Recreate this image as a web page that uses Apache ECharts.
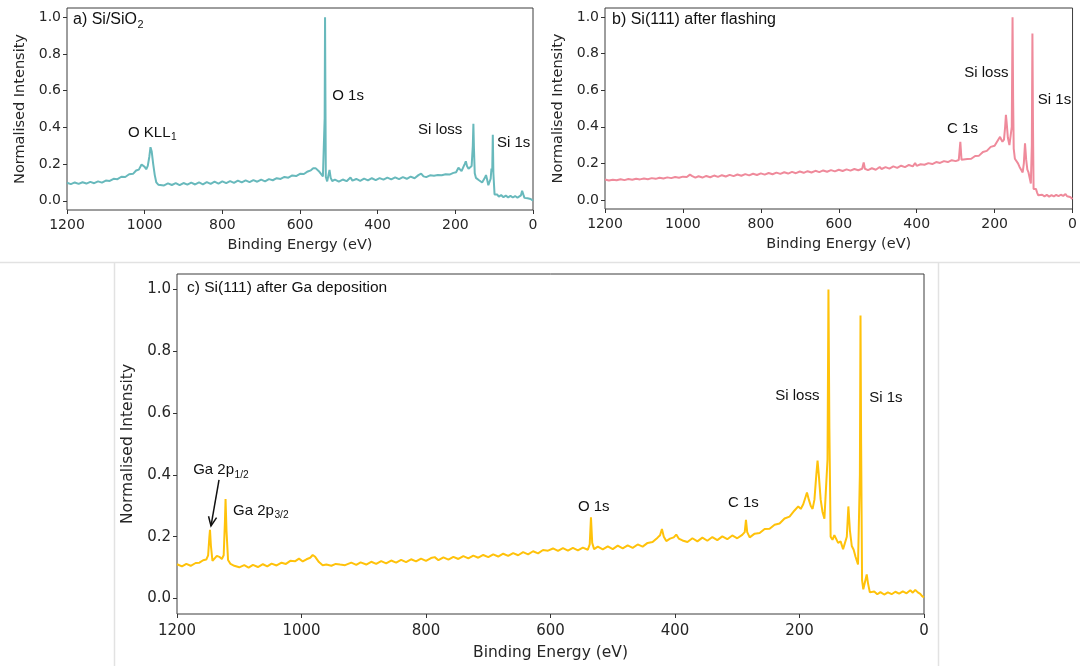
<!DOCTYPE html>
<html>
<head>
<meta charset="utf-8">
<script src="https://cdn.jsdelivr.net/npm/echarts@6/dist/echarts.min.js"></script>
<style>
html,body{margin:0;padding:0;background:#fff;}
#chart{width:1080px;height:666px;}
</style>
</head>
<body>
<div id="chart"></div>
<script>
// ---------- DATA (binding energy eV, normalised intensity) ----------
const specA = [
[1200,0.098],[1190,0.091],[1180,0.100],[1170,0.092],[1160,0.101],[1150,0.094],[1140,0.103],[1130,0.096],
[1120,0.106],[1110,0.099],[1100,0.110],[1090,0.108],[1080,0.120],[1070,0.118],[1060,0.131],[1050,0.130],
[1040,0.145],[1030,0.147],[1022,0.165],[1015,0.170],[1008,0.198],[1004,0.205],[1000,0.185],[996,0.172],
[992,0.190],[988,0.240],[985,0.292],[982,0.270],[978,0.200],[974,0.140],[970,0.100],[965,0.088],
[960,0.094],[950,0.084],[940,0.095],[930,0.086],[920,0.096],[910,0.085],[900,0.097],[890,0.088],
[880,0.099],[870,0.089],[860,0.100],[850,0.090],[840,0.102],[830,0.092],[820,0.104],[810,0.094],
[800,0.106],[790,0.096],[780,0.107],[770,0.098],[760,0.110],[750,0.100],[740,0.111],[730,0.102],
[720,0.113],[710,0.104],[700,0.115],[690,0.106],[680,0.118],[670,0.112],[660,0.123],[650,0.119],
[640,0.130],[630,0.126],[620,0.138],[610,0.135],[600,0.147],[590,0.146],[580,0.160],[572,0.166],
[566,0.177],[560,0.178],[555,0.172],[550,0.158],[545,0.150],[541,0.133],[538,0.125],[536.5,0.45],
[535.5,1.0],[534.5,0.55],[533.5,0.13],[530,0.106],[527,0.114],[524,0.168],[521,0.125],[517,0.108],
[510,0.115],[500,0.105],[490,0.116],[480,0.107],[470,0.127],[465,0.110],[455,0.119],[445,0.109],
[435,0.121],[425,0.111],[415,0.123],[405,0.113],[395,0.124],[385,0.115],[375,0.126],[365,0.117],
[355,0.128],[345,0.118],[335,0.129],[325,0.120],[315,0.132],[305,0.123],[295,0.140],[288,0.148],
[282,0.133],[275,0.129],[265,0.139],[255,0.137],[245,0.140],[235,0.139],[225,0.145],[215,0.143],
[205,0.152],[198,0.156],[192,0.180],[188,0.175],[184,0.162],[180,0.168],[176,0.200],[173,0.215],
[170,0.190],[166,0.175],[162,0.170],[158,0.190],[155,0.30],[153.5,0.42],[152,0.28],[150,0.150],
[147,0.125],[143,0.118],[139,0.112],[135,0.108],[131,0.100],[127,0.108],[124,0.125],[121,0.140],
[118,0.115],[115,0.085],[112,0.082],[109,0.120],[107,0.175],[105,0.16],[103.5,0.36],[102,0.15],
[99,0.035],[96,0.026],[92,0.034],[88,0.023],[82,0.031],[76,0.020],[70,0.028],[64,0.019],
[58,0.027],[52,0.018],[46,0.026],[40,0.017],[35,0.025],[31,0.030],[28,0.055],[25,0.035],
[22,0.016],[18,0.022],[14,0.014],[10,0.020],[6,0.010],[3,0.009],[0,0.000]
];
const specB = [
[1200,0.111],[1190,0.106],[1180,0.110],[1170,0.107],[1160,0.113],[1150,0.108],[1140,0.114],[1130,0.110],
[1120,0.116],[1110,0.112],[1100,0.117],[1090,0.113],[1080,0.119],[1070,0.115],[1060,0.121],[1050,0.117],
[1040,0.123],[1030,0.119],[1020,0.125],[1010,0.121],[1000,0.127],[990,0.125],[982,0.138],[976,0.130],
[968,0.122],[960,0.129],[950,0.122],[940,0.131],[930,0.124],[920,0.133],[910,0.126],[900,0.135],
[890,0.128],[880,0.137],[870,0.130],[860,0.139],[850,0.132],[840,0.141],[830,0.134],[820,0.143],
[810,0.136],[800,0.145],[790,0.138],[780,0.147],[770,0.140],[760,0.149],[750,0.142],[740,0.151],
[730,0.144],[720,0.153],[710,0.146],[700,0.155],[690,0.148],[680,0.157],[670,0.150],[660,0.159],
[650,0.152],[640,0.161],[630,0.154],[620,0.163],[610,0.156],[600,0.165],[590,0.158],[580,0.167],
[570,0.160],[560,0.169],[550,0.162],[540,0.170],[536,0.205],[533,0.170],[525,0.163],[515,0.173],
[505,0.165],[495,0.180],[490,0.169],[480,0.179],[470,0.171],[460,0.183],[450,0.175],[440,0.187],
[430,0.179],[420,0.191],[410,0.183],[404,0.202],[400,0.186],[390,0.195],[380,0.192],[370,0.201],
[360,0.196],[350,0.207],[340,0.202],[330,0.212],[320,0.207],[310,0.217],[300,0.212],[292,0.218],
[288,0.318],[285,0.220],[280,0.210],[270,0.223],[260,0.225],[250,0.240],[240,0.242],[230,0.262],
[220,0.268],[210,0.290],[200,0.296],[195,0.314],[190,0.322],[186,0.345],[183,0.330],[180,0.318],
[176,0.330],[173,0.400],[171,0.465],[169,0.420],[166,0.340],[162,0.300],[159,0.295],[156,0.40],
[154,1.0],[152.5,0.55],[151,0.28],[148,0.225],[144,0.215],[140,0.200],[136,0.180],[132,0.165],
[128,0.150],[125,0.200],[122,0.31],[119,0.220],[116,0.165],[113,0.150],[110,0.120],[107,0.090],
[104.5,0.30],[103,0.91],[101.5,0.40],[100,0.060],[97,0.050],[94,0.060],[91,0.040],[88,0.025],
[84,0.020],[78,0.028],[72,0.019],[66,0.027],[60,0.018],[54,0.026],[48,0.019],[42,0.027],
[36,0.020],[30,0.028],[24,0.022],[18,0.032],[14,0.020],[10,0.028],[6,0.016],[3,0.013],[0,0.005]
];
const specC = [
[1200,0.111],[1192,0.104],[1185,0.112],[1178,0.106],[1170,0.115],[1164,0.116],[1158,0.124],[1153,0.126],
[1150,0.140],[1148,0.20],[1147,0.222],[1145.5,0.17],[1143,0.122],[1140,0.125],[1136,0.138],[1132,0.135],
[1128,0.128],[1125,0.140],[1123,0.25],[1122,0.322],[1120.5,0.22],[1118,0.125],[1114,0.112],[1108,0.106],
[1100,0.101],[1092,0.108],[1085,0.100],[1078,0.109],[1070,0.102],[1062,0.111],[1055,0.104],[1048,0.113],
[1040,0.107],[1032,0.116],[1025,0.112],[1018,0.122],[1010,0.121],[1004,0.129],[998,0.120],[992,0.127],
[986,0.132],[982,0.141],[978,0.135],[972,0.118],[966,0.108],[960,0.110],[952,0.106],[945,0.112],
[938,0.110],[930,0.108],[920,0.116],[912,0.109],[905,0.117],[896,0.110],[888,0.119],[880,0.112],
[872,0.121],[864,0.114],[856,0.123],[848,0.116],[840,0.125],[832,0.118],[824,0.127],[816,0.120],
[808,0.129],[800,0.122],[792,0.131],[786,0.134],[780,0.124],[772,0.133],[764,0.126],[756,0.135],
[748,0.128],[740,0.137],[732,0.130],[724,0.139],[716,0.132],[708,0.141],[700,0.134],[692,0.143],
[684,0.136],[676,0.145],[668,0.138],[660,0.147],[652,0.140],[644,0.150],[636,0.143],[628,0.153],
[620,0.146],[612,0.157],[604,0.155],[596,0.162],[588,0.154],[580,0.163],[572,0.155],[564,0.164],
[556,0.156],[548,0.165],[540,0.158],[537,0.175],[535,0.263],[533,0.180],[530,0.160],[524,0.168],
[516,0.159],[508,0.169],[500,0.160],[492,0.171],[484,0.162],[476,0.172],[468,0.164],[460,0.175],
[452,0.168],[444,0.180],[436,0.183],[428,0.197],[424,0.205],[421,0.225],[418,0.200],[414,0.186],
[408,0.194],[402,0.198],[398,0.207],[394,0.194],[388,0.188],[380,0.183],[372,0.195],[364,0.185],
[356,0.197],[348,0.187],[340,0.199],[332,0.189],[324,0.201],[316,0.192],[308,0.204],[300,0.195],
[292,0.206],[288,0.215],[286,0.255],[284,0.215],[280,0.198],[272,0.210],[264,0.212],[256,0.225],
[248,0.226],[240,0.239],[232,0.243],[224,0.259],[216,0.265],[208,0.285],[202,0.298],[198,0.290],
[194,0.305],[190,0.330],[188,0.343],[185,0.320],[182,0.300],[179,0.290],[176,0.320],[173,0.400],
[171,0.446],[169,0.400],[166,0.320],[163,0.280],[160,0.258],[157,0.255],[155,0.45],[153.5,1.0],
[152,0.55],[150,0.20],[147,0.190],[144,0.205],[141,0.200],[138,0.180],[134,0.185],[130,0.160],
[127,0.165],[124,0.200],[121.5,0.298],[119,0.220],[116,0.170],[113,0.158],[110,0.135],[106,0.110],
[104,0.105],[103,0.40],[102,0.916],[101,0.50],[99.5,0.060],[97.5,0.030],[95,0.032],[92,0.078],
[90,0.050],[87,0.020],[84,0.016],[80,0.023],[75,0.014],[70,0.021],[64,0.013],[58,0.020],
[52,0.014],[46,0.022],[40,0.016],[34,0.023],[28,0.017],[22,0.027],[18,0.019],[14,0.028],
[10,0.020],[6,0.015],[3,0.008],[0,0.004]
];
const yTicks = [0, 0.2, 0.4, 0.6, 0.8, 1.0];
const xTickInterval = 200;
const xAxisTitle = 'Binding Energy (eV)';
const yAxisTitle = 'Normalised Intensity';
// panel titles: [main, subscript]
const titles = [['a) Si/SiO', '2'], ['b) Si(111) after flashing', ''], ['c) Si(111) after Ga deposition', '']];
// annotations: [energy, intensity, main text, subscript]
const annotA = [[1043, 0.37, 'O KLL', '1'], [517, 0.57, 'O 1s', ''], [296, 0.386, 'Si loss', ''], [93, 0.315, 'Si 1s', '']];
const annotB = [[322, 0.388, 'C 1s', ''], [278, 0.694, 'Si loss', ''], [89, 0.546, 'Si 1s', '']];
const annotC = [[1174, 0.415, 'Ga 2p', '1/2'], [1110, 0.283, 'Ga 2p', '3/2'], [556, 0.296, 'O 1s', ''],
                [315, 0.309, 'C 1s', ''], [239, 0.656, 'Si loss', ''], [88, 0.65, 'Si 1s', '']];
const arrowC = [[1132.5, 0.384], [1145.4, 0.235]];

// ---------- LAYOUT ----------
const grids = [
  {left: 67, top: 8, width: 466, height: 202},
  {left: 605, top: 8, width: 470, height: 201},
  {left: 177, top: 274, width: 747, height: 342}
];
const colors = ['#68b9bc', '#ef8a9b', '#ffc20a'];
const specs = [specA, specB, specC];
const tickFont = [14, 14, 15];
const nameFont = [14.5, 14.5, 15.5];
const annFont = [15, 15, 15];
const titleFont = [16, 16, 15.5];
const titleOffset = [[6, 12], [7, 12], [10, 14]];

const chart = echarts.init(document.getElementById('chart'), null, {renderer: 'canvas'});

const xAxes = grids.map((g, i) => ({
  type: 'value', gridIndex: i, min: 0, max: 1200, interval: xTickInterval, inverse: true,
  position: 'bottom',
  name: xAxisTitle, nameLocation: 'middle', nameGap: i === 2 ? 31 : 28,
  nameTextStyle: {fontFamily: 'DejaVu Sans', fontSize: nameFont[i], color: '#262626'},
  axisLine: {show: false, onZero: false},
  axisTick: {show: true, inside: false, length: 4, lineStyle: {color: '#333', width: 1}},
  axisLabel: {fontFamily: 'DejaVu Sans', fontSize: tickFont[i], color: '#262626', margin: i === 2 ? 10 : 8,
              showMinLabel: true, showMaxLabel: true, formatter: v => String(v)},
  splitLine: {show: false}
}));
const yAxes = grids.map((g, i) => ({
  type: 'value', gridIndex: i, min: -0.05, max: 1.05, position: 'left',
  name: yAxisTitle, nameLocation: 'middle', nameGap: i === 2 ? 40 : 39,
  nameTextStyle: {fontFamily: 'DejaVu Sans', fontSize: nameFont[i], color: '#262626'},
  axisLine: {show: false, onZero: false},
  axisTick: {show: true, inside: false, length: 4, customValues: yTicks, lineStyle: {color: '#333', width: 1}},
  axisLabel: {fontFamily: 'DejaVu Sans', fontSize: tickFont[i], color: '#262626', margin: 6,
              customValues: yTicks, formatter: v => v.toFixed(1)},
  splitLine: {show: false}
}));

chart.setOption({
  animation: false,
  backgroundColor: '#fff',
  grid: grids.map(g => Object.assign({show: true, borderColor: '#3c3c3c', borderWidth: 1, backgroundColor: 'transparent'}, g)),
  xAxis: xAxes,
  yAxis: yAxes,
  series: specs.map((d, i) => ({
    type: 'line', xAxisIndex: i, yAxisIndex: i, data: d, showSymbol: false, symbol: 'none',
    lineStyle: {color: colors[i], width: 2}, itemStyle: {color: colors[i]}, silent: true, z: 2
  }))
});

// ---------- ANNOTATIONS ----------
const measureCtx = document.createElement('canvas').getContext('2d');
function textWidth(t, size) { measureCtx.font = size + 'px "Liberation Sans"'; return measureCtx.measureText(t).width; }
const gfx = [];
function addLabel(x, y, main, sub, size) {
  gfx.push({type: 'text', x: x, y: y, z: 10,
    style: {text: main, font: size + 'px "Liberation Sans"', fill: '#111', verticalAlign: 'middle', align: 'left'}});
  if (sub) {
    const w = textWidth(main, size);
    gfx.push({type: 'text', x: x + w + 0.5, y: y + size * 0.3, z: 10,
      style: {text: sub, font: (size * 0.68) + 'px "Liberation Sans"', fill: '#111', verticalAlign: 'middle', align: 'left'}});
  }
}
titles.forEach((t, i) => {
  const g = grids[i];
  addLabel(g.left + titleOffset[i][0], g.top + titleOffset[i][1], t[0], t[1], titleFont[i]);
});
[annotA, annotB, annotC].forEach((arr, i) => {
  arr.forEach(a => {
    const p = chart.convertToPixel({gridIndex: i}, [a[0], a[1]]);
    addLabel(p[0], p[1], a[2], a[3], annFont[i]);
  });
});
// arrow in panel c
(function () {
  const p0 = chart.convertToPixel({gridIndex: 2}, arrowC[0]);
  const p1 = chart.convertToPixel({gridIndex: 2}, arrowC[1]);
  gfx.push({type: 'line', z: 10, shape: {x1: p0[0], y1: p0[1], x2: p1[0], y2: p1[1]}, style: {stroke: '#111', lineWidth: 1.5}});
  const ang = Math.atan2(p1[1] - p0[1], p1[0] - p0[0]);
  const L = 10, spread = 0.42;
  const h1 = [p1[0] - L * Math.cos(ang - spread), p1[1] - L * Math.sin(ang - spread)];
  const h2 = [p1[0] - L * Math.cos(ang + spread), p1[1] - L * Math.sin(ang + spread)];
  gfx.push({type: 'polyline', z: 10, shape: {points: [h1, p1, h2]}, style: {stroke: '#111', lineWidth: 1.5, fill: null}});
})();
// divider lines of the composite figure
gfx.push({type: 'line', z: 0, shape: {x1: 0, y1: 262.5, x2: 1080, y2: 262.5}, style: {stroke: '#e2e2e2', lineWidth: 1.5}});
gfx.push({type: 'line', z: 0, shape: {x1: 114.5, y1: 263, x2: 114.5, y2: 666}, style: {stroke: '#e2e2e2', lineWidth: 1.5}});
gfx.push({type: 'line', z: 0, shape: {x1: 938.5, y1: 263, x2: 938.5, y2: 666}, style: {stroke: '#e2e2e2', lineWidth: 1.5}});

chart.setOption({graphic: gfx});
</script>
</body>
</html>
